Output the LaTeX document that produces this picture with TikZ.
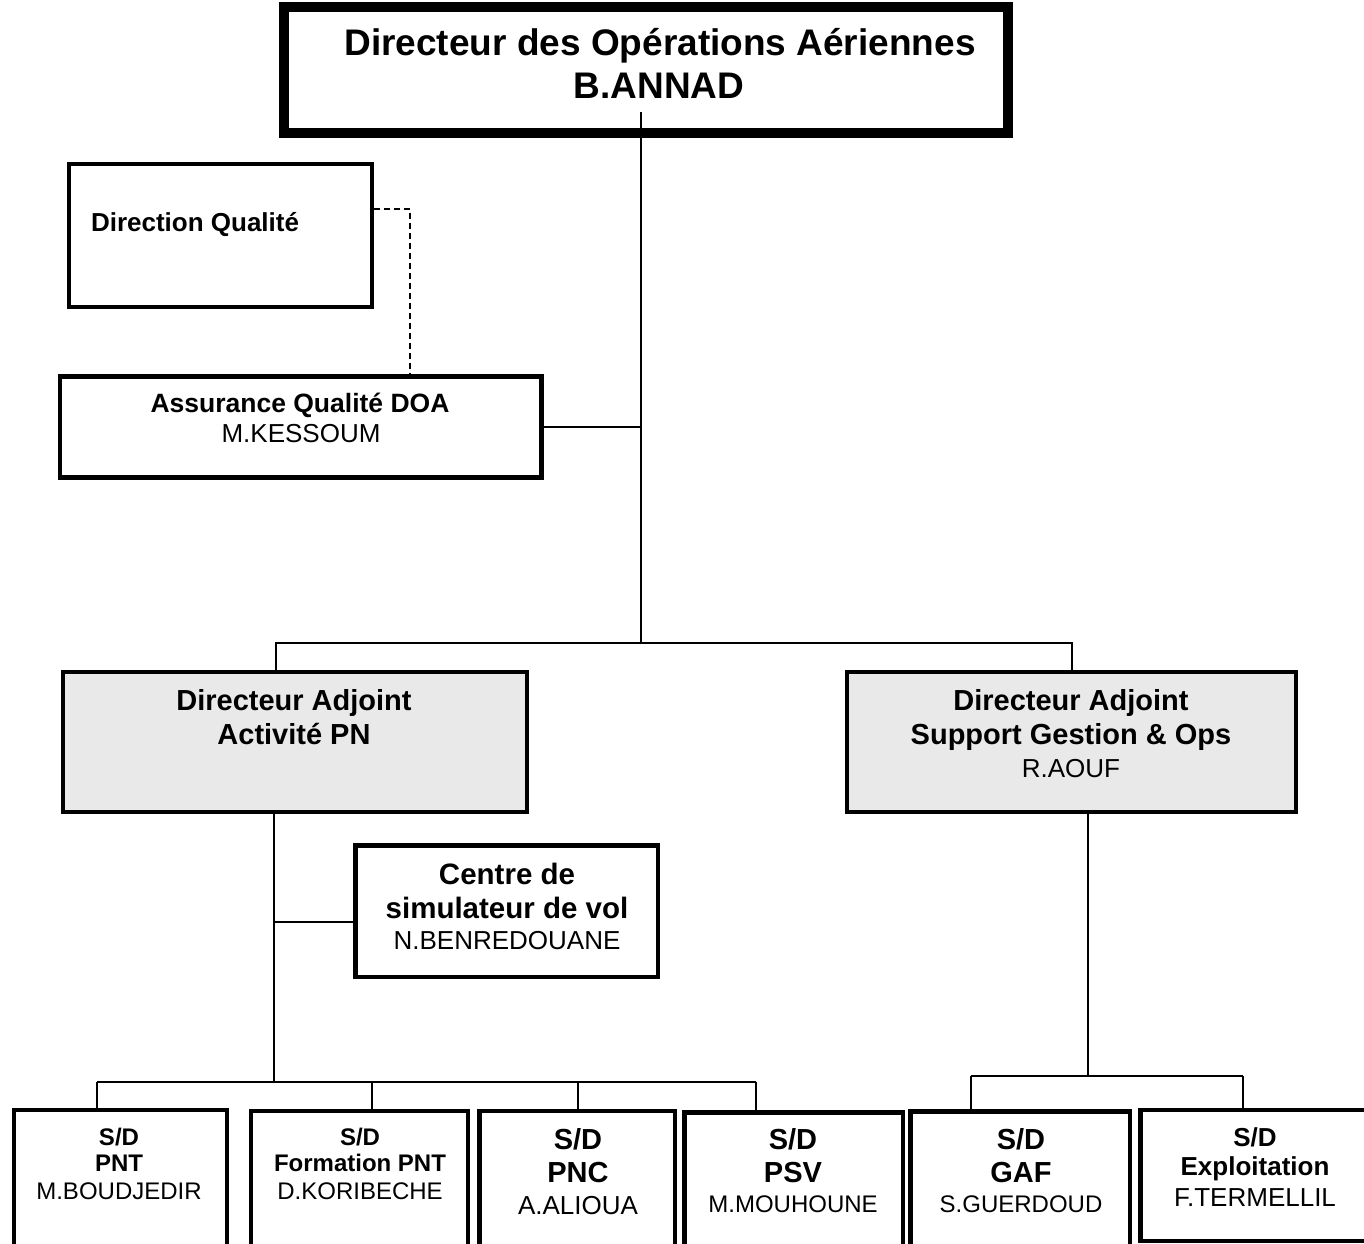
\documentclass[tikz,border=0pt]{standalone}
\usepackage{fontspec}
\setmainfont{Liberation Sans}
\definecolor{dafill}{RGB}{233,233,233}
\begin{document}
\begin{tikzpicture}[x=1pt,y=-1pt,
  txt/.style={anchor=base,inner sep=0pt,outer sep=0pt},
  fb/.style={txt,font=\fontsize{#1}{#1}\selectfont\bfseries},
  fr/.style={txt,font=\fontsize{#1}{#1}\selectfont},
  box/.style={draw,line width=4.5pt,inner sep=0pt,rectangle},
  dabox/.style={box,line width=4pt,fill=dafill},
  conn/.style={line width=2pt},
  dashconn/.style={line width=1.8pt,dash pattern=on 6pt off 4pt}]
\useasboundingbox (0,0) rectangle (1364,1243);
\clip (0,0) rectangle (1364,1243);
\fill[white] (0,0) rectangle (1364,1243);

% top box
\node[box,line width=10pt,minimum width=724pt,minimum height=126pt] (dop) at (646,70) {};
\node[fb=37] (dop1) at (660,55) {Directeur des Opérations Aériennes};
\node[fb=37] (dop2) at (659,98) {B.ANNAD};

% Direction Qualite
\node[box,line width=4pt,minimum width=303pt,minimum height=142.5pt] (dq) at (220.2,235.25) {};
\node[fb=26,anchor=base west] (dq1) at (91,231) {Direction Qualité};

% Assurance Qualite
\node[box,minimum width=481.5pt,minimum height=100.8pt] (aq) at (300.75,427.1) {};
\node[fb=26.5] (aq1) at (300,412.5) {Assurance Qualité DOA};
\node[fr=26] (aq2) at (301,442) {M.KESSOUM};

% Directeurs adjoints
\node[dabox,minimum width=464.5pt,minimum height=139.5pt] (dal) at (294.75,741.75) {};
\node[fb=29] (dal1) at (294,710) {Directeur Adjoint};
\node[fb=29] (dal2) at (294,744) {Activité PN};

\node[dabox,minimum width=449pt,minimum height=140pt] (dar) at (1071.5,742) {};
\node[fb=29] (dar1) at (1071,710) {Directeur Adjoint};
\node[fb=29] (dar2) at (1071,744) {Support Gestion \& Ops};
\node[fr=26] (dar3) at (1071,777) {R.AOUF};

% Centre de simulateur
\node[box,minimum width=302.7pt,minimum height=131.5pt] (cs) at (506.65,911.25) {};
\node[fb=29.5] (cs1) at (507,884.5) {Centre de};
\node[fb=29.5] (cs2) at (507,918.5) {simulateur de vol};
\node[fr=26] (cs3) at (507,949) {N.BENREDOUANE};

% bottom boxes
\node[box,minimum width=213pt,minimum height=150pt] (b1) at (120.5,1185) {};
\node[fb=24] (b1a) at (119,1145.6) {S/D};
\node[fb=24] (b1b) at (119,1171.6) {PNT};
\node[fr=24] (b1c) at (119,1199.6) {M.BOUDJEDIR};

\node[box,minimum width=217pt,minimum height=149pt] (b2) at (359.5,1185.5) {};
\node[fb=24] (b2a) at (360,1145.6) {S/D};
\node[fb=24] (b2b) at (360,1171.6) {Formation PNT};
\node[fr=24] (b2c) at (360,1199.6) {D.KORIBECHE};

\node[box,minimum width=195.5pt,minimum height=149pt] (b3) at (577.25,1185.5) {};
\node[fb=29] (b3a) at (578,1149.4) {S/D};
\node[fb=29] (b3b) at (578,1182.4) {PNC};
\node[fr=26] (b3c) at (578,1214.3) {A.ALIOUA};

\node[box,minimum width=218.5pt,minimum height=147.5pt] (b4) at (793.75,1186.25) {};
\node[fb=29] (b4a) at (793,1149.4) {S/D};
\node[fb=29] (b4b) at (793,1182.4) {PSV};
\node[fr=24] (b4c) at (793,1212.6) {M.MOUHOUNE};

\node[box,minimum width=219.5pt,minimum height=148.5pt] (b5) at (1020.25,1185.75) {};
\node[fb=29] (b5a) at (1021,1149.4) {S/D};
\node[fb=29] (b5b) at (1021,1182.4) {GAF};
\node[fr=24] (b5c) at (1021,1212.6) {S.GUERDOUD};

\node[box,minimum width=231.5pt,minimum height=131pt] (b6) at (1256.25,1175.5) {};
\node[fb=26] (b6a) at (1255,1146.3) {S/D};
\node[fb=26] (b6b) at (1255,1175.3) {Exploitation};
\node[fr=26] (b6c) at (1255,1206.3) {F.TERMELLIL};

% connectors
\coordinate (topin) at (641,112);
\coordinate (j1) at (641,643);
\coordinate (hl) at (276,643);
\coordinate (hr) at (1072,643);
\draw[conn] (topin) -- (j1);
\draw[conn] (aq.east) -- (aq.east -| j1);
\draw[conn] (dal.north -| hl) -- (hl) -- (hr) -- (dar.north -| hr);

\coordinate (dqc) at (410,209);
\draw[dashconn] (dq.east |- dqc) -- (dqc) -- (aq.north -| dqc);

\coordinate (vl) at (274,1082);
\coordinate (cj) at (274,922);
\draw[conn] (dal.south -| vl) -- (vl);
\draw[conn] (cj) -- (cs.west |- cj);

\coordinate (d1) at (97,1082);
\coordinate (d2) at (372,1082);
\coordinate (d3) at (578,1082);
\coordinate (d4) at (756,1082);
\draw[conn] (d1) -- (d4);
\draw[conn] (d1) -- (b1.north -| d1);
\draw[conn] (d2) -- (b2.north -| d2);
\draw[conn] (d3) -- (b3.north -| d3);
\draw[conn] (d4) -- (b4.north -| d4);

\coordinate (vr) at (1088,1076);
\coordinate (e1) at (971,1076);
\coordinate (e2) at (1243,1076);
\draw[conn] (dar.south -| vr) -- (vr);
\draw[conn] (e1) -- (e2);
\draw[conn] (e1) -- (b5.north -| e1);
\draw[conn] (e2) -- (b6.north -| e2);
\end{tikzpicture}
\end{document}
